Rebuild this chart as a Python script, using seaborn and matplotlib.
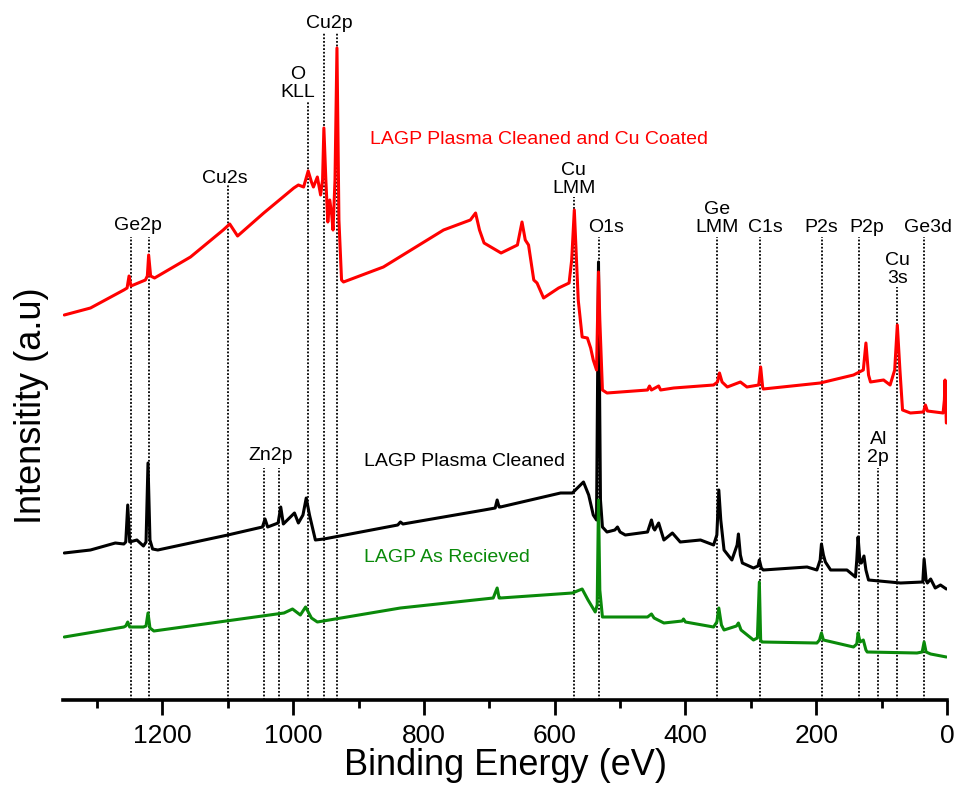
import numpy as np
import pandas as pd
import matplotlib
matplotlib.use("Agg")
import matplotlib.pyplot as plt
from matplotlib.ticker import MultipleLocator
import seaborn as sns

# XPS survey spectra (binding energy in eV, intensity in arbitrary units, offset stacked)
red_ev = [1350, 1310, 1259, 1254, 1251, 1248, 1226, 1223, 1221, 1218, 1212, 1157, 1107, 1097,
          1085, 1045, 999, 992, 984, 977, 972, 969, 963, 958, 955, 953, 950, 947, 944, 941,
          939, 936, 933, 930, 926, 923, 862, 770, 729, 721, 715, 708, 682, 657, 650, 645,
          640, 632, 627, 617, 594, 578, 574, 570, 566, 564, 558, 550, 545, 541, 536, 533,
          531, 527, 520, 458, 455, 452, 441, 438, 418, 357, 351, 348, 344, 336, 316, 306,
          288, 285, 282, 281, 194, 143, 128, 124, 120, 117, 97, 87, 80, 76, 72, 68, 56, 36,
          33, 30, 6, 4, 3, 1]
red_int = [385, 392, 410, 412, 424, 414, 420, 424, 445, 424, 422, 443, 470, 476,
           464, 487, 512, 515, 513, 529, 518, 513, 523, 505, 520, 572, 520, 478, 500, 485,
           470, 520, 652, 480, 420, 418, 433, 470, 480, 487, 470, 457, 447, 455, 478, 460,
           455, 420, 417, 402, 412, 417, 440, 490, 430, 400, 363, 362, 352, 340, 330, 428,
           380, 310, 307, 310, 314, 310, 314, 310, 312, 315, 318, 327, 318, 313, 318, 313,
           315, 333, 313, 311, 317, 325, 330, 357, 325, 318, 320, 315, 330, 375, 330, 290, 287, 288,
           295, 289, 287, 300, 320, 277]

black_ev = [1350, 1310, 1272, 1259, 1256, 1253, 1250, 1239, 1229, 1225, 1222, 1219, 1215, 1207,
            1100, 1047, 1043, 1039, 1023, 1019, 1015, 998, 992, 985, 980, 975, 966, 953, 840,
            836, 832, 708, 691, 688, 685, 683, 591, 573, 556, 548, 541, 536, 533, 530, 527,
            520, 508, 504, 500, 492, 458, 452, 449, 447, 441, 433, 420, 408, 377, 357, 352,
            349, 346, 341, 329, 321, 319, 316, 313, 296, 289, 287, 284, 281, 214, 199, 194,
            192, 189, 186, 178, 153, 140, 138, 136, 133, 131, 127, 124, 120, 71, 37, 35, 32,
            30, 25, 18, 10, 1]
black_int = [147, 150, 157, 156, 158, 195, 158, 160, 154, 158, 237, 160, 151, 150,
             165, 173, 181, 173, 177, 193, 176, 187, 177, 185, 202, 185, 160, 161, 175,
             178, 176, 190, 192, 200, 193, 193, 207, 207, 218, 205, 185, 180, 438, 200, 173,
             168, 170, 173, 168, 165, 168, 180, 172, 170, 177, 160, 167, 158, 160, 155, 165,
             210, 180, 150, 140, 155, 166, 145, 137, 132, 134, 140, 132, 130, 133, 130, 140,
             156, 145, 138, 130, 130, 123, 140, 163, 137, 137, 144, 130, 120, 117, 118, 141, 120,
             117, 121, 112, 115, 111]

green_ev = [1350, 1259, 1256, 1253, 1250, 1229, 1225, 1222, 1219, 1213, 1014, 1001, 989, 981,
            972, 963, 836, 694, 688, 685, 683, 573, 558, 549, 538, 535, 533, 531, 527, 458,
            452, 448, 433, 405, 403, 400, 357, 352, 349, 345, 341, 322, 319, 315, 296, 290,
            287, 285, 283, 199, 195, 192, 189, 143, 138, 136, 133, 128, 124, 122, 46, 38, 35,
            32, 25, 1]
green_int = [63, 73, 74, 78, 73, 73, 74, 87, 72, 69, 87, 91, 85, 93,
             82, 78, 92, 102, 112, 102, 102, 107, 111, 100, 88, 95, 200, 110, 83, 83,
             86, 82, 77, 79, 81, 78, 73, 78, 92, 75, 70, 74, 77, 70, 60, 62,
             118, 60, 58, 57, 60, 67, 60, 53, 56, 67, 58, 60, 50, 48, 47, 48, 58,
             48, 46, 43]

series_names = ["LAGP Plasma Cleaned and Cu Coated", "LAGP Plasma Cleaned", "LAGP As Recieved"]

# peak markers: energy of dotted line, top of dotted line
line_ev = [1248, 1220, 1100, 1045, 1022, 978, 953, 933, 570, 532, 352, 286, 191, 134, 105, 76, 35]
line_top = [463, 463, 515, 232, 232, 598, 667, 667, 503, 463, 463, 463, 463, 463, 232, 413, 463]

# peak labels: text, energy, y
peak_labels = ["Ge2p", "Cu2s", "Zn2p", "O\nKLL", "Cu2p", "Cu\nLMM", "O1s", "Ge\nLMM",
               "C1s", "P2s", "P2p", "Al\n2p", "Cu\n3s", "Ge3d"]
peak_label_ev = [1237, 1104, 1035, 993, 944, 571, 522, 351, 278, 192, 123, 105, 76, 29]
peak_label_y = [466, 513, 236, 599, 668, 503, 464, 464, 464, 464, 464, 234, 413, 464]

sns.set_style("white")
plt.rcParams["font.family"] = ["Liberation Sans", "DejaVu Sans"]
plt.rcParams["text.color"] = "black"
plt.rcParams["axes.labelcolor"] = "black"

fig = plt.figure(figsize=(9.59, 7.89), dpi=100)
ax = fig.add_axes([63 / 959, 89 / 789, 884 / 959, 700 / 789])

ax.vlines(line_ev, 0, line_top, colors="black", linestyles=(0, (1, 1)), linewidth=1.3, zorder=1)

sns.lineplot(x=black_ev, y=black_int, sort=False, estimator=None, color="black", lw=2.2, ax=ax, zorder=2)
sns.lineplot(x=green_ev, y=green_int, sort=False, estimator=None, color="#0a8a0a", lw=2.2, ax=ax, zorder=3)
sns.lineplot(x=red_ev, y=red_int, sort=False, estimator=None, color="#ff0000", lw=2.2, ax=ax, zorder=4)

for txt, xe, yy in zip(peak_labels, peak_label_ev, peak_label_y):
    ax.text(xe, yy, txt, ha="center", va="bottom", fontsize=14, multialignment="center",
            linespacing=1.1, color="black")

ax.text(882, 561, series_names[0], color="#ff0000", fontsize=14, va="center", ha="left")
ax.text(892, 238, series_names[1], color="black", fontsize=14, va="center", ha="left")
ax.text(892, 143, series_names[2], color="#0a8a0a", fontsize=14, va="center", ha="left")

ax.set_xlim(1352, 0)
ax.set_ylim(0, 700)
ax.xaxis.set_major_locator(MultipleLocator(200))
ax.xaxis.set_minor_locator(MultipleLocator(100))
ax.set_yticks([])
for s in ["top", "right", "left"]:
    ax.spines[s].set_visible(False)
ax.spines["bottom"].set_linewidth(2.6)
ax.spines["bottom"].set_color("black")
ax.tick_params(axis="x", which="major", direction="out", length=11, width=2, labelsize=19,
               pad=6, bottom=True, colors="black")
ax.tick_params(axis="x", which="minor", direction="out", length=6, width=2, bottom=True,
               colors="black")

ax.set_xlabel("Binding Energy (eV)", fontsize=26)
ax.xaxis.set_label_coords(0.5, -0.094)
ax.xaxis.label.set_va("center")
ax.set_ylabel("Intensitity (a.u)", fontsize=26)
ax.yaxis.set_label_coords(-0.036, 0.421)
ax.yaxis.label.set_va("center")

fig.savefig("out.png", dpi=100)
